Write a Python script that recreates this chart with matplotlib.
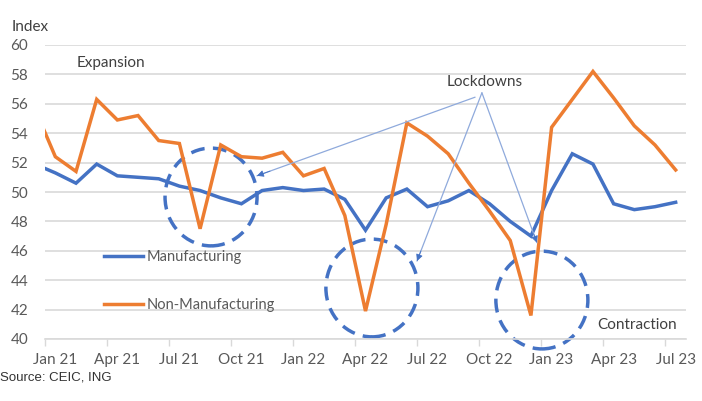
import matplotlib
matplotlib.use("Agg")
import matplotlib.pyplot as plt
from matplotlib.patches import Ellipse
import numpy as np

plt.rcParams['font.family'] = ['Lato', 'DejaVu Sans']

# monthly PMI readings, Dec 20 .. Jul 23 (Dec 20 only shows as the clipped start of each line)
manufacturing = [51.9, 51.3, 50.6, 51.9, 51.1, 51.0, 50.9, 50.4, 50.1, 49.6, 49.2, 50.1, 50.3,
                 50.1, 50.2, 49.5, 47.4, 49.6, 50.2, 49.0, 49.4, 50.1, 49.2, 48.0, 47.0,
                 50.1, 52.6, 51.9, 49.2, 48.8, 49.0, 49.3]
non_manufacturing = [55.7, 52.4, 51.4, 56.3, 54.9, 55.2, 53.5, 53.3, 47.5, 53.2, 52.4, 52.3, 52.7,
                     51.1, 51.6, 48.4, 41.9, 47.8, 54.7, 53.8, 52.6, 50.6, 48.7, 46.7, 41.6,
                     54.4, 56.3, 58.2, 56.4, 54.5, 53.2, 51.5]
tick_labels = ['Jan 21', 'Apr 21', 'Jul 21', 'Oct 21', 'Jan 22', 'Apr 22', 'Jul 22',
               'Oct 22', 'Jan 23', 'Apr 23', 'Jul 23']

BLUE = '#4472C4'
LIGHTBLUE = '#8FAADC'
ORANGE = '#ED7D31'
GREY = '#595959'

x = np.arange(len(manufacturing))

fig = plt.figure(figsize=(7.02, 4.01), dpi=100)
ax = fig.add_axes([45/702, 1-339/401, 641/702, 294/401])

ax.plot(x, manufacturing, color=BLUE, lw=2.5, label='Manufacturing', solid_joinstyle='miter')
ax.plot(x, non_manufacturing, color=ORANGE, lw=2.5, label='Non-Manufacturing', solid_joinstyle='miter')

ax.set_xlim(0.5, len(x) - 0.5)
ax.set_ylim(40, 60)
ax.set_yticks(np.arange(40, 61, 2))
ax.yaxis.grid(True, color='#d9d9d9', lw=1.2)
ax.set_axisbelow(True)
ax.tick_params(axis='y', length=0, pad=12, labelsize=11, labelcolor=GREY)

# labels centred on months, tick marks between quarters
ax.set_xticks(np.arange(1, len(x), 3))
ax.set_xticklabels(tick_labels)
ax.set_xticks(np.arange(0.5, len(x), 3), minor=True)
ax.tick_params(axis='x', which='major', length=0, pad=10, labelsize=11, labelcolor=GREY)
ax.tick_params(axis='x', which='minor', length=5, width=1, color='#d9d9d9')

for s in ['top', 'right', 'left']:
    ax.spines[s].set_visible(False)
ax.spines['bottom'].set_color('#d9d9d9')
ax.spines['bottom'].set_linewidth(1.2)

leg = ax.legend(loc='upper left', bbox_to_anchor=(104/702, 1-250/401), bbox_transform=fig.transFigure,
                frameon=False, fontsize=10.5, labelspacing=2.35, handlelength=2.7,
                handletextpad=0.25, borderpad=0, borderaxespad=0)
for t in leg.get_texts():
    t.set_color(GREY)

# dashed circles around the lockdown dips
for cx, cy in [(8.53, 49.66), (16.31, 43.47), (24.53, 42.65)]:
    ax.add_patch(Ellipse((cx, cy), 4.45, 6.65, fill=False, ec=BLUE, lw=2.5,
                         ls=(0, (4, 2.4)), clip_on=False))

ax.text(2.05, 58.8, 'Expansion', fontsize=11, color='#404040', va='center')
ax.text(19.94, 57.5, 'Lockdowns', fontsize=11, color='#404040', va='center')
ax.text(27.19, 40.95, 'Contraction', fontsize=11, color='#404040', va='center')

# thin light callout lines with darker arrow heads
apex = (21.63, 56.75)
for start, end in [((21.3, 56.45), (10.75, 51.1)), (apex, (18.49, 45.3)), (apex, (24.29, 46.55))]:
    ax.annotate('', xy=end, xytext=start,
                arrowprops=dict(arrowstyle='-', color=LIGHTBLUE, lw=0.9, shrinkA=0, shrinkB=0))
    near = (end[0] + 0.06 * (start[0] - end[0]), end[1] + 0.06 * (start[1] - end[1]))
    ax.annotate('', xy=end, xytext=near,
                arrowprops=dict(arrowstyle='-|>', color=BLUE, lw=0.6, shrinkA=0, shrinkB=0,
                                mutation_scale=10))

fig.text(12/702, 1-27/401, 'Index', fontsize=11, color='#404040', va='center')
fig.text(0, 1-378/401, 'Source: CEIC, ING', fontsize=9.5, color='#333333', va='center',
         family='Liberation Sans')

fig.savefig('out.png', dpi=100)
